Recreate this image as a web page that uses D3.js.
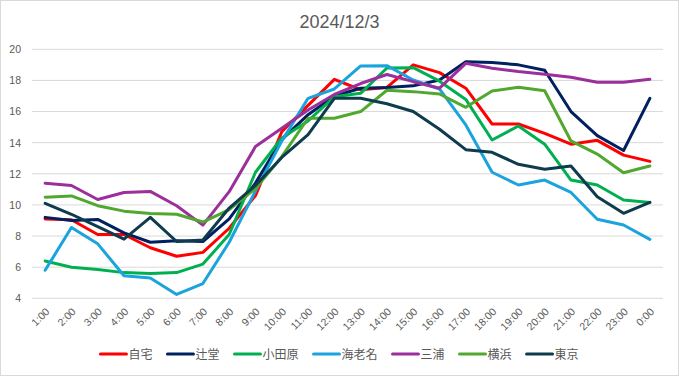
<!DOCTYPE html>
<html>
<head>
<meta charset="utf-8">
<script src="https://cdn.jsdelivr.net/npm/d3@7"></script>
<style>
  html, body { margin: 0; padding: 0; background: #fff; }
  svg { display: block; font-family: "Liberation Sans", Arial, "Noto Sans CJK JP", sans-serif; }
</style>
</head>
<body>
<svg id="chart"></svg>
<script>
// data
const hours = ["1:00","2:00","3:00","4:00","5:00","6:00","7:00","8:00","9:00","10:00","11:00","12:00",
               "13:00","14:00","15:00","16:00","17:00","18:00","19:00","20:00","21:00","22:00","23:00","0:00"];
const yTicks = [4, 6, 8, 10, 12, 14, 16, 18, 20];

const jitaku   = [9.1, 9.05, 8.1, 8.1, 7.25, 6.7, 6.95, 8.5, 10.6, 14.7, 16.4, 18.07, 17.4, 17.55, 19.0, 18.5, 17.5, 15.2, 15.2, 14.6, 13.9, 14.15, 13.2, 12.8];
const tsujido  = [9.2, 9.0, 9.07, 8.2, 7.6, 7.7, 7.65, 9.1, 11.4, 14.2, 15.8, 17.0, 17.5, 17.55, 17.65, 18.03, 19.2, 19.15, 19.0, 18.65, 16.0, 14.45, 13.5, 16.85];
const odawara  = [6.4, 6.0, 5.85, 5.65, 5.6, 5.65, 6.2, 8.1, 12.1, 14.3, 15.4, 16.95, 17.17, 18.8, 18.82, 17.95, 16.78, 14.17, 15.07, 13.9, 11.6, 11.28, 10.32, 10.15];
const ebina    = [5.8, 8.55, 7.5, 5.45, 5.3, 4.25, 4.95, 7.6, 10.9, 14.1, 16.85, 17.45, 18.93, 18.95, 18.03, 17.45, 15.14, 12.1, 11.28, 11.6, 10.8, 9.08, 8.71, 7.79];
const miura    = [11.4, 11.25, 10.35, 10.8, 10.87, 9.95, 8.7, 10.85, 13.75, 14.93, 16.1, 17.1, 17.8, 18.38, 17.92, 17.5, 19.1, 18.78, 18.57, 18.4, 18.2, 17.88, 17.88, 18.07];
const yokohama = [10.5, 10.58, 9.95, 9.6, 9.45, 9.4, 8.9, 9.7, 11.05, 13.1, 15.57, 15.57, 16.0, 17.37, 17.28, 17.13, 16.27, 17.32, 17.56, 17.34, 14.11, 13.27, 12.07, 12.5];
const tokyo    = [10.1, 9.4, 8.6, 7.8, 9.2, 7.65, 7.75, 9.8, 11.25, 13.05, 14.52, 16.85, 16.85, 16.5, 16.0, 14.86, 13.55, 13.38, 12.61, 12.29, 12.5, 10.53, 9.46, 10.17];

const seriesNames = ["自宅", "辻堂", "小田原", "海老名", "三浦", "横浜", "東京"];
const seriesValues = [jitaku, tsujido, odawara, ebina, miura, yokohama, tokyo];
const seriesColors = ["#ff0000", "#002060", "#00b050", "#1ba3dd", "#9b2f9b", "#50a82e", "#0e3b4e"];

const W = 679, H = 376;
const plot = { left: 32, right: 663, top: 49.3, bottom: 298.3 };
const textColor = "#595959";

const svg = d3.select("#chart").attr("width", W).attr("height", H);

svg.append("rect")
    .attr("x", 0.5).attr("y", 0.5)
    .attr("width", W - 1).attr("height", H - 1)
    .attr("fill", "#fff")
    .attr("stroke", "#d9d9d9");

const x = d3.scaleBand().domain(hours).range([plot.left, plot.right]).padding(0);
const cx = h => x(h) + x.bandwidth() / 2;
const y = d3.scaleLinear().domain([4, 20]).range([plot.bottom, plot.top]);

// gridlines
svg.append("g")
    .selectAll("line")
    .data(yTicks)
    .enter().append("line")
    .attr("x1", plot.left).attr("x2", plot.right)
    .attr("y1", d => y(d)).attr("y2", d => y(d))
    .attr("stroke", "#d9d9d9")
    .attr("stroke-width", 1);

// y axis labels
const yAxis = svg.append("g")
    .attr("transform", `translate(${plot.left - 11},0)`)
    .call(d3.axisLeft(y).tickValues(yTicks).tickSize(0).tickPadding(0));
yAxis.select(".domain").remove();
yAxis.selectAll("text")
    .style("font-size", "10.5px")
    .style("font-family", "\"Liberation Sans\", Arial, sans-serif")
    .attr("fill", textColor);

// x axis labels
const xAxis = svg.append("g")
    .attr("transform", `translate(0,${plot.bottom})`)
    .call(d3.axisBottom(x).tickSize(0).tickPadding(0));
xAxis.select(".domain").remove();
xAxis.selectAll("text")
    .style("font-size", "10.5px")
    .style("font-family", "\"Liberation Sans\", Arial, sans-serif")
    .attr("fill", textColor)
    .attr("text-anchor", "end")
    .attr("dy", null)
    .attr("y", 0)
    .attr("transform", "translate(5,14) rotate(-45)");

// lines
const line = d3.line()
    .x((d, i) => cx(hours[i]))
    .y(d => y(d));

svg.append("g")
    .selectAll("path")
    .data(seriesValues)
    .enter().append("path")
    .attr("d", d => line(d))
    .attr("fill", "none")
    .attr("stroke", (d, i) => seriesColors[i])
    .attr("stroke-width", 3)
    .attr("stroke-linejoin", "round")
    .attr("stroke-linecap", "round");

// title
svg.append("text")
    .attr("x", W / 2)
    .attr("y", 28)
    .attr("text-anchor", "middle")
    .style("font-size", "18px")
    .attr("fill", textColor)
    .text("2024/12/3");

// legend
const legend = svg.append("g");
const legendY = 354;
let lx = 0;
seriesNames.forEach((name, i) => {
    const item = legend.append("g").attr("transform", `translate(${lx},${legendY})`);
    item.append("line")
        .attr("x1", 0).attr("x2", 26)
        .attr("y1", 0).attr("y2", 0)
        .attr("stroke", seriesColors[i])
        .attr("stroke-width", 3)
        .attr("stroke-linecap", "round");
    const t = item.append("text")
        .attr("x", 28)
        .attr("y", 4.5)
        .style("font-size", "12px")
        .style("font-family", "\"Noto Sans CJK JP\", sans-serif")
        .attr("fill", textColor)
        .text(name);
    lx += 28 + t.node().getComputedTextLength() + 15;
});
const legendWidth = lx - 15;
legend.attr("transform", `translate(${(W - legendWidth) / 2},0)`);
</script>
</body>
</html>
